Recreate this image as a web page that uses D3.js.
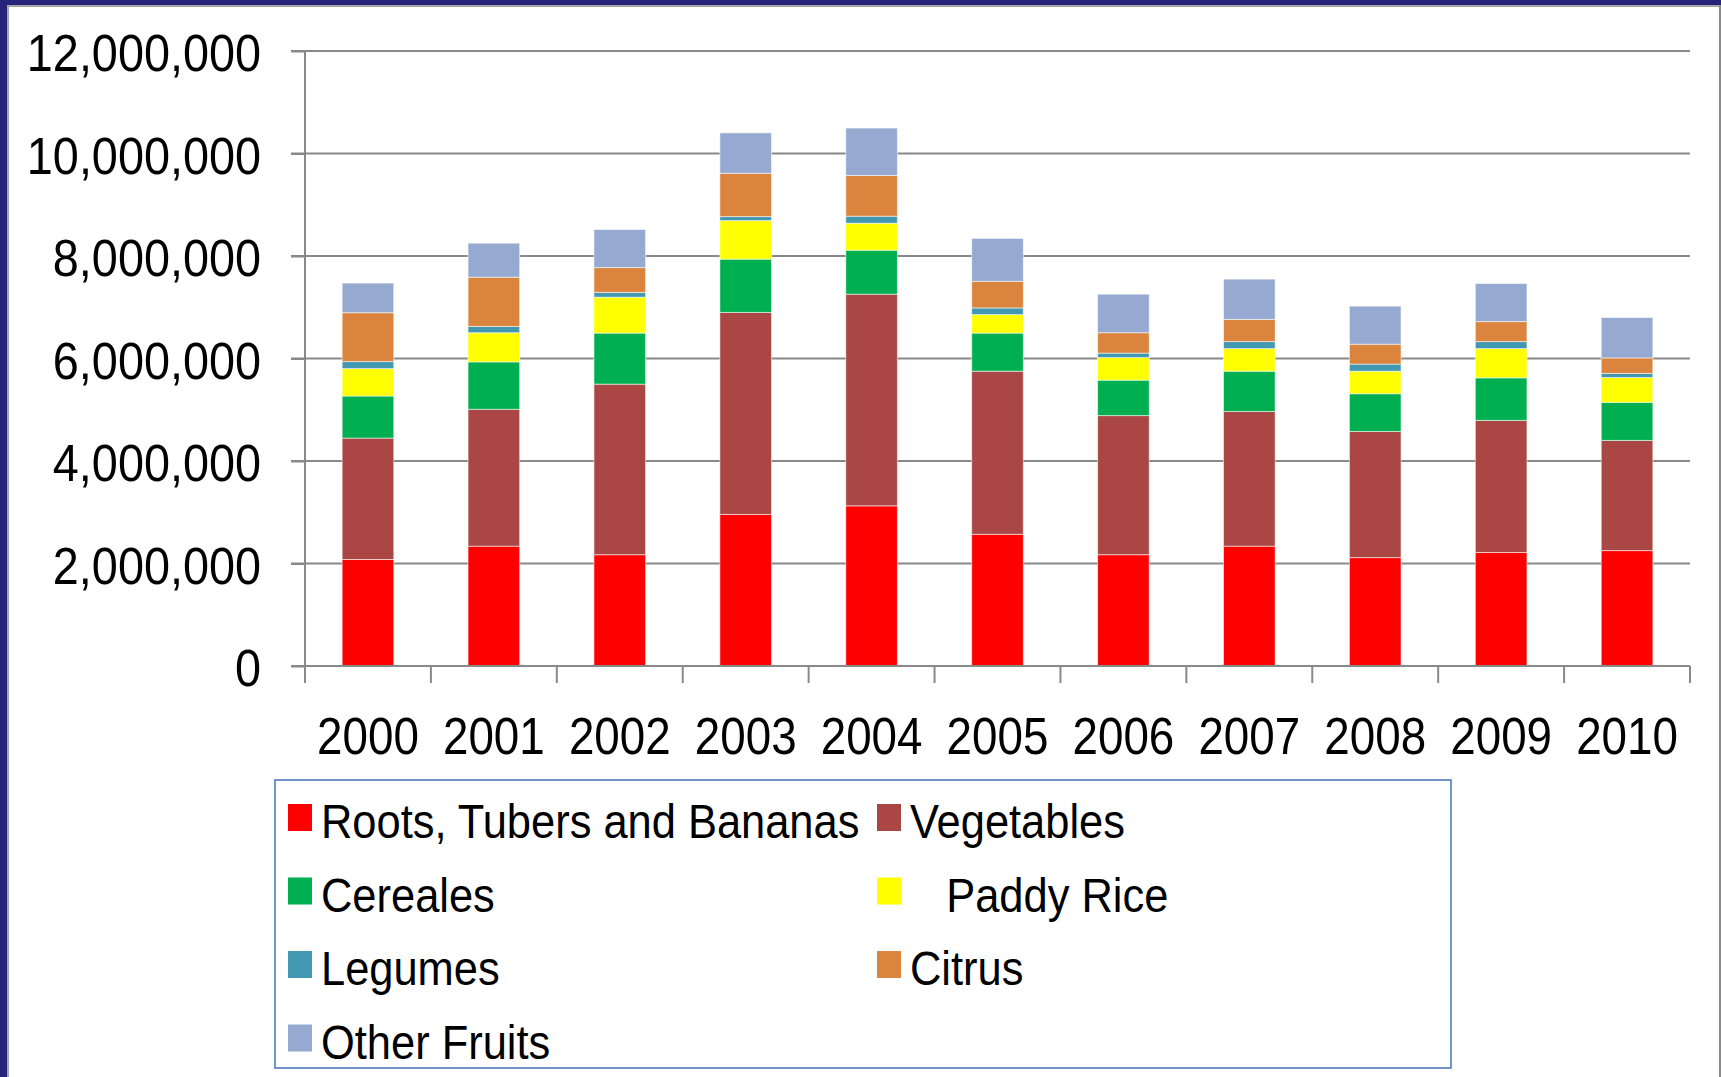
<!DOCTYPE html>
<html>
<head>
<meta charset="utf-8">
<title>Production 2000-2010</title>
<style>
    body { margin: 0; background: #fff; }
    svg { display: block; font-family: "Liberation Sans", Arial, sans-serif; }
    .grid line { stroke: #898989; stroke-width: 2; }
    .axis path, .axis line { stroke: #898989; stroke-width: 2; }
    .lbl { white-space: pre; fill: #000; }
</style>
</head>
<body>
<script src="https://d3js.org/d3.v7.min.js"></script>
<script>
    // data
    var years = ["2000","2001","2002","2003","2004","2005","2006","2007","2008","2009","2010"];
    var series = ["Roots, Tubers and Bananas", "Vegetables", "Cereales", "   Paddy Rice", "Legumes", "Citrus", "Other Fruits"];
    var colors = ["#ff0000", "#aa4643", "#00b050", "#ffff00", "#4298b0", "#db843d", "#95a9d1"];

    var roots   = [2078000, 2338000, 2172000, 2958000, 3126000, 2570000, 2172000, 2338000, 2115000, 2215000, 2252000];
    var veg     = [2369000, 2671000, 3328000, 3941000, 4129000, 3182000, 2714000, 2628000, 2461000, 2577000, 2150000];
    var cereal  = [821000, 925000, 996000, 1040000, 858000, 744000, 692000, 786000, 737000, 831000, 743000];
    var rice    = [535000, 569000, 700000, 752000, 527000, 361000, 441000, 441000, 439000, 570000, 484000];
    var legumes = [137000, 123000, 94000, 78000, 137000, 130000, 86000, 137000, 139000, 137000, 80000];
    var citrus  = [954000, 960000, 484000, 845000, 794000, 519000, 398000, 433000, 388000, 390000, 303000];
    var other   = [577000, 664000, 743000, 788000, 925000, 837000, 752000, 786000, 743000, 743000, 788000];

    var yTicks = [0, 2000000, 4000000, 6000000, 8000000, 10000000, 12000000];

    var W = 1721, H = 1077;
    var sxY = 0.9;    // text in the picture is horizontally squeezed
    var sxX = 0.88;
    var sxLeg = 0.905;

    var svg = d3.select("body").append("svg")
        .attr("width", W)
        .attr("height", H);

    // slide frame
    svg.append("rect").attr("x", 0).attr("y", 0).attr("width", W).attr("height", 5).attr("fill", "#25247a");
    svg.append("rect").attr("x", 0).attr("y", 0).attr("width", 7).attr("height", H).attr("fill", "#25247a");
    svg.append("rect").attr("x", 7).attr("y", 5).attr("width", W - 7).attr("height", 2).attr("fill", "#a6a6a6");
    svg.append("rect").attr("x", 7).attr("y", 5).attr("width", 2).attr("height", H).attr("fill", "#a6a6a6");
    svg.append("rect").attr("x", W - 2).attr("y", 5).attr("width", 2).attr("height", H).attr("fill", "#8c8c8c");

    var plotLeft = 305, plotRight = 1690, plotTop = 51, plotBottom = 666;

    var x = d3.scaleBand()
        .domain(years)
        .range([plotLeft, plotRight])
        .paddingInner(0.59)
        .paddingOuter(0.295);

    var y = d3.scaleLinear()
        .domain([0, 12000000])
        .range([plotBottom, plotTop]);

    // stacked data
    var table = years.map(function(yr, i) {
        return { year: yr, s0: roots[i], s1: veg[i], s2: cereal[i], s3: rice[i], s4: legumes[i], s5: citrus[i], s6: other[i] };
    });
    var keys = ["s0","s1","s2","s3","s4","s5","s6"];
    var stack = d3.stack().keys(keys)(table);

    // gridlines
    svg.append("g").attr("class", "grid")
        .selectAll("line")
        .data(yTicks)
        .enter().append("line")
        .attr("x1", plotLeft - 14)
        .attr("x2", plotRight)
        .attr("y1", function(d) { return y(d); })
        .attr("y2", function(d) { return y(d); });

    // bars
    svg.append("g").selectAll("g")
        .data(stack)
        .enter().append("g")
        .attr("fill", function(d, i) { return colors[i]; })
        .selectAll("rect")
        .data(function(d) { return d; })
        .enter().append("rect")
        .attr("x", function(d) { return x(d.data.year); })
        .attr("width", x.bandwidth())
        .attr("y", function(d) { return y(d[1]); })
        .attr("height", function(d) { return y(d[0]) - y(d[1]); })
        .attr("stroke", "rgba(255,255,255,0.55)")
        .attr("stroke-width", 1);

    // y axis
    var yAxis = svg.append("g")
        .attr("class", "axis")
        .attr("transform", "translate(" + plotLeft + ",0)")
        .call(d3.axisLeft(y).tickValues(yTicks).tickSize(14).tickFormat("").tickSizeOuter(0));
    yAxis.select(".domain").remove();
    svg.append("line")
        .attr("x1", plotLeft).attr("x2", plotLeft)
        .attr("y1", plotTop).attr("y2", plotBottom + 17)
        .attr("stroke", "#898989").attr("stroke-width", 2);

    var fmt = d3.format(",");
    svg.append("g").selectAll("text")
        .data(yTicks)
        .enter().append("text")
        .attr("class", "lbl")
        .attr("text-anchor", "end")
        .attr("font-size", 52)
        .attr("transform", function(d) { return "translate(261," + (y(d) + 20) + ") scale(" + sxY + ",1)"; })
        .text(function(d) { return fmt(d); });

    // x axis
    svg.append("line")
        .attr("x1", plotLeft).attr("x2", plotRight)
        .attr("y1", plotBottom).attr("y2", plotBottom)
        .attr("stroke", "#898989").attr("stroke-width", 2);

    var bounds = years.map(function(d) { return x(d) + x.bandwidth() / 2 - x.step() / 2; });
    bounds.push(plotRight);
    svg.append("g").selectAll("line")
        .data(bounds)
        .enter().append("line")
        .attr("x1", function(d) { return d; })
        .attr("x2", function(d) { return d; })
        .attr("y1", plotBottom)
        .attr("y2", plotBottom + 17)
        .attr("stroke", "#898989").attr("stroke-width", 2);

    svg.append("g").selectAll("text")
        .data(years)
        .enter().append("text")
        .attr("class", "lbl")
        .attr("text-anchor", "middle")
        .attr("font-size", 52)
        .attr("transform", function(d) { return "translate(" + (x(d) + x.bandwidth() / 2) + ",754) scale(" + sxX + ",1)"; })
        .text(function(d) { return d; });

    // legend
    svg.append("rect")
        .attr("x", 275).attr("y", 780)
        .attr("width", 1451 - 275).attr("height", 1068 - 780)
        .attr("fill", "none")
        .attr("stroke", "#6f95c9")
        .attr("stroke-width", 2);

    var colX = [288, 877];
    var item = svg.append("g").selectAll("g")
        .data(series)
        .enter().append("g")
        .attr("transform", function(d, i) {
            return "translate(" + colX[i % 2] + "," + (804 + Math.floor(i / 2) * 73.5) + ")";
        });
    item.append("rect")
        .attr("width", 24)
        .attr("height", 27)
        .attr("fill", function(d, i) { return colors[i]; });
    item.append("text")
        .attr("class", "lbl")
        .attr("font-size", 48)
        .attr("transform", "translate(33,34) scale(" + sxLeg + ",1)")
        .text(function(d) { return d; });
</script>
</body>
</html>
